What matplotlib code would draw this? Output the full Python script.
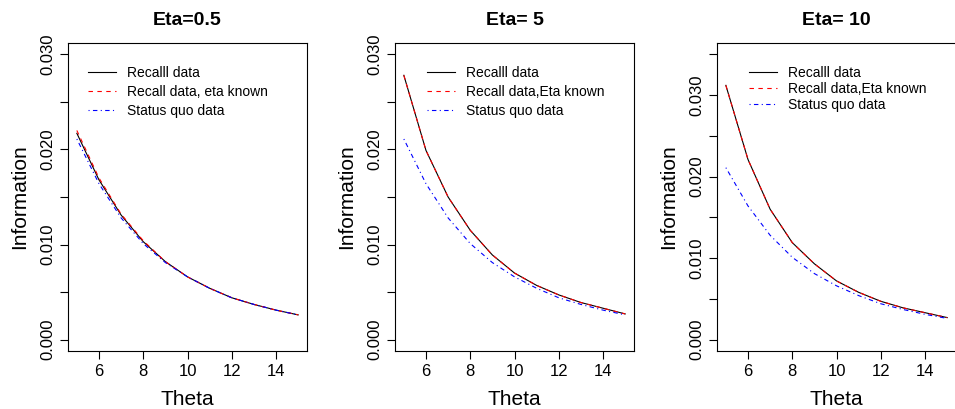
import numpy as np
import matplotlib.pyplot as plt

plt.rcParams['font.family'] = ['Liberation Sans', 'DejaVu Sans']

theta = [5, 6, 7, 8, 9, 10, 11, 12, 13, 14, 15]

# status quo data does not depend on eta
status_quo = [0.0211, 0.0164, 0.0128, 0.0101, 0.0081, 0.0066, 0.0054, 0.0044, 0.0037, 0.0031, 0.0026]

recall_05 = [0.0217, 0.0168, 0.0131, 0.0103, 0.0082, 0.0066, 0.0054, 0.0044, 0.0037, 0.0031, 0.0026]
known_05 = [0.0220, 0.0170, 0.0132, 0.0104, 0.0082, 0.0066, 0.0054, 0.0044, 0.0037, 0.0031, 0.0026]

recall_5 = [0.0278, 0.0199, 0.0150, 0.0115, 0.0089, 0.0070, 0.0057, 0.0047, 0.0039, 0.0033, 0.0027]
known_5 = recall_5

recall_10 = [0.0312, 0.0221, 0.0160, 0.0119, 0.0093, 0.0072, 0.0058, 0.0047, 0.0039, 0.0033, 0.0027]
known_10 = recall_10

titles = ["Eta=0.5", "Eta= 5", "Eta= 10"]
known_labels = ["Recall data, eta known", "Recall data,Eta known", "Recall data,Eta known"]
ymax = [0.030, 0.030, 0.035]

panels = [(recall_05, known_05), (recall_5, known_5), (recall_10, known_10)]
lefts = [0.0712, 0.4136, 0.7508]
leg_x = [0.084, 0.134, 0.134]
leg_sp = [0.36, 0.36, 0.14]

fig = plt.figure(figsize=(9.55, 4.09), dpi=100)

for i in range(3):
    ax = fig.add_axes([lefts[i], 0.1418, 0.2503, 0.7531])
    rec, kn = panels[i]
    ax.plot(theta, rec, color='black', lw=0.8, label="Recalll data")
    ax.plot(theta, kn, color='red', lw=0.8, linestyle=(0, (4, 4)), label=known_labels[i])
    ax.plot(theta, status_quo, color='blue', lw=0.8, linestyle=(0, (1, 3, 4, 3)),
            label="Status quo data")

    ax.set_xlim(4.6, 15.4)
    pad = ymax[i] * 0.04
    ax.set_ylim(-pad, ymax[i] + pad)

    ax.set_xticks([6, 8, 10, 12, 14])
    yt = np.arange(0, ymax[i] + 1e-9, 0.005)
    ax.set_yticks(yt)
    ax.set_yticklabels(["%.3f" % v if round(v / 0.005) % 2 == 0 else "" for v in yt],
                       rotation=90, va='center')
    ax.tick_params(direction='out', length=6, width=0.8, labelsize=12, pad=3)
    for s in ax.spines.values():
        s.set_linewidth(0.8)

    ax.set_title(titles[i], fontsize=14, fontweight='bold', pad=13)
    ax.set_xlabel("Theta", fontsize=15, labelpad=8)
    ax.set_ylabel("Information", fontsize=15, labelpad=8)

    ax.legend(loc='upper left', bbox_to_anchor=(leg_x[i], 0.925), frameon=False,
              fontsize=10, handlelength=2.0, handletextpad=0.8, labelspacing=leg_sp[i],
              borderpad=0, borderaxespad=0)

fig.savefig("out.png", dpi=100)
